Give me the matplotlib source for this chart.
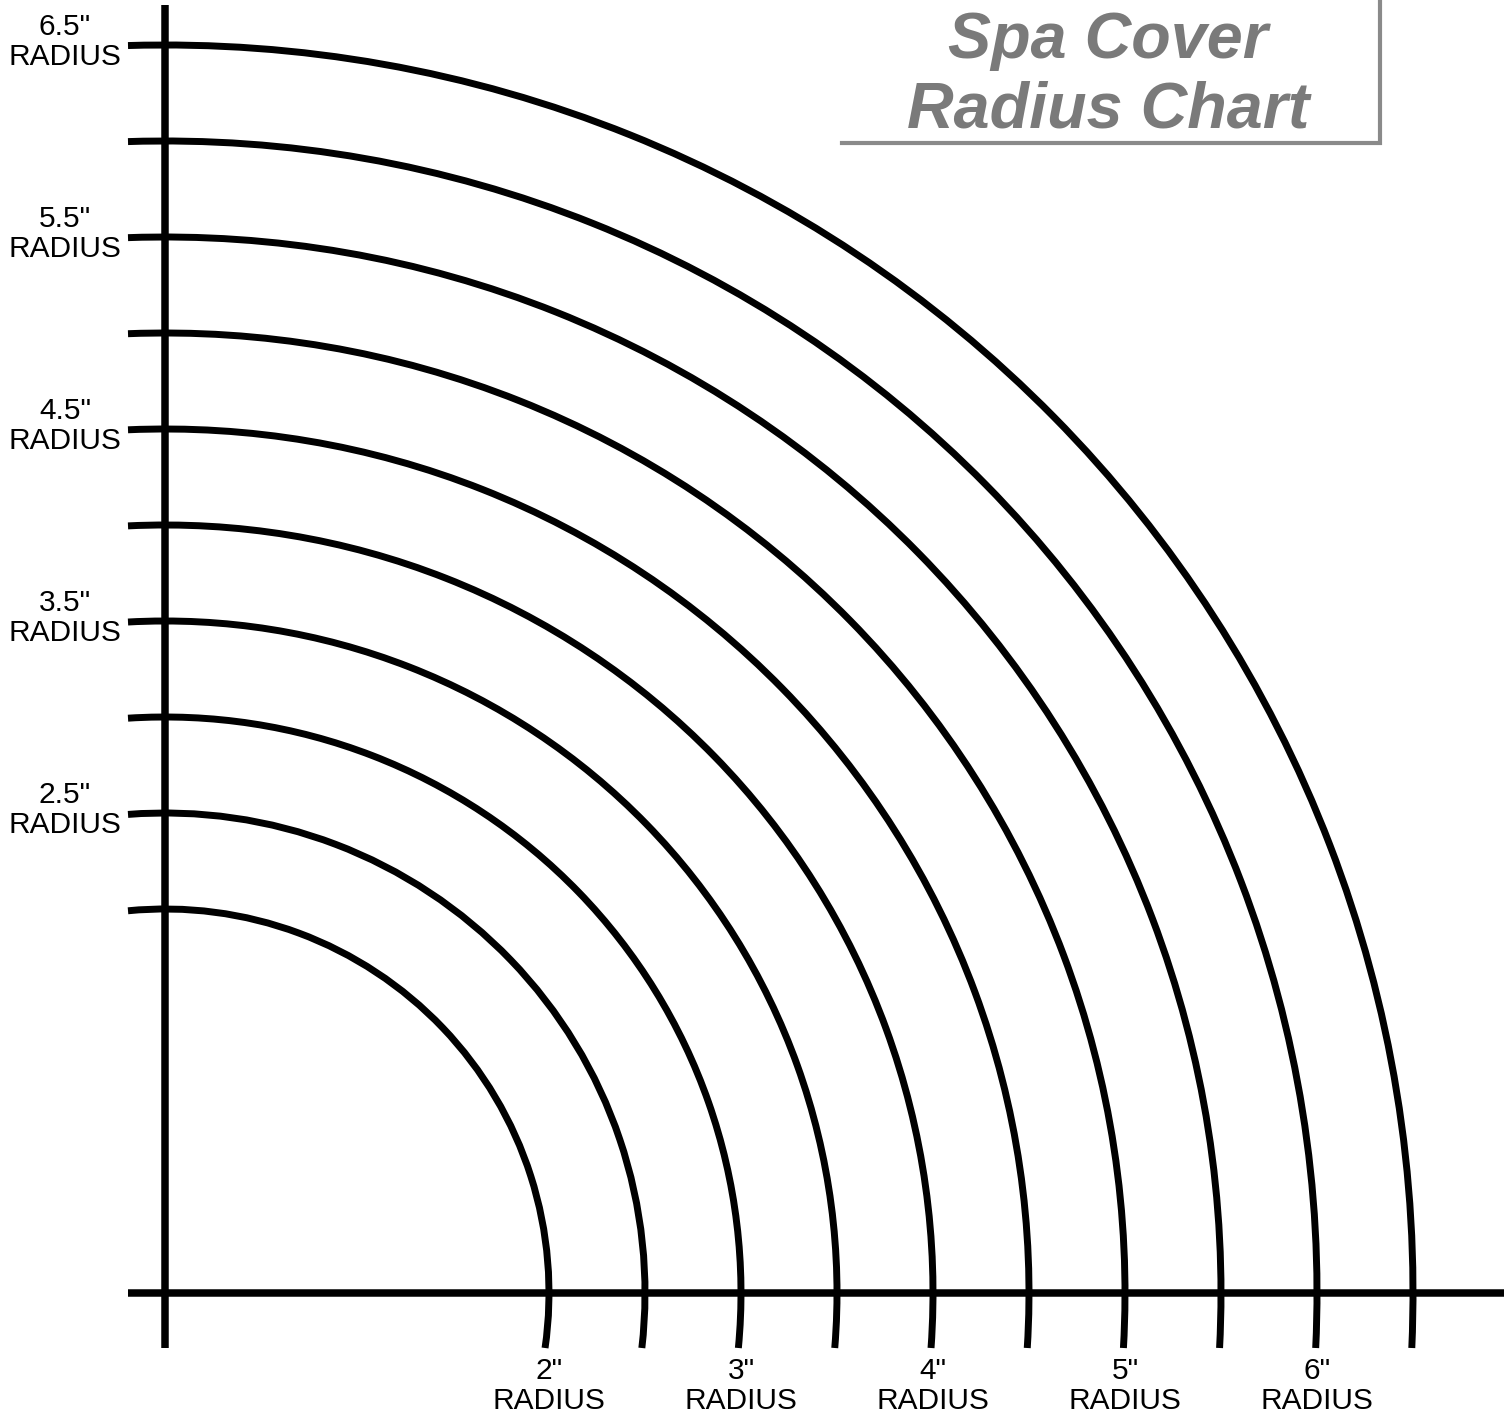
import numpy as np
import matplotlib
matplotlib.use('Agg')
import matplotlib.pyplot as plt
from matplotlib.patches import Arc

plt.rcParams['font.family'] = ['Liberation Sans', 'DejaVu Sans']

# arc radii in inches
radii = [2.0, 2.5, 3.0, 3.5, 4.0, 4.5, 5.0, 5.5, 6.0, 6.5]
# labelled radii on each axis
left_labels = [6.5, 5.5, 4.5, 3.5, 2.5]
bottom_labels = [2, 3, 4, 5, 6]
title_lines = ["Spa Cover", "Radius Chart"]

# pixel scale: 192 px per inch, origin at (165, 1293) of a 1504x1420 image
px = 192.0
x0, y0 = 165.0, 1293.0
W, H = 1504, 1420

fig = plt.figure(figsize=(W / 100, H / 100), dpi=100)
ax = fig.add_axes([0, 0, 1, 1])
ax.set_xlim(-x0 / px, (W - x0) / px)
ax.set_ylim(-(H - y0) / px, y0 / px)
ax.axis('off')

lw = 5.0
below = 55 / px   # arcs run past the x axis
left = 37 / px    # arcs run past the y axis

# axes lines
ax.plot([0, 0], [-below, (y0 - 5) / px], color='black', lw=lw + 0.4, solid_capstyle='butt')
ax.plot([-left, (W - x0) / px], [0, 0], color='black', lw=lw + 0.4, solid_capstyle='butt')

for r in radii:
    t1 = -np.degrees(np.arcsin(below / r))
    t2 = 90 + np.degrees(np.arcsin(left / r))
    ax.add_patch(Arc((0, 0), 2 * r, 2 * r, theta1=t1, theta2=t2,
                     color='black', lw=lw, capstyle='butt'))

for r in left_labels:
    ax.text(-100 / px, r + 3 / px, f'{r}"\nRADIUS', ha='center', va='center',
            fontsize=21.5, linespacing=1.12)

for r in bottom_labels:
    ax.text(r, -93 / px, f'{r}"\nRADIUS', ha='center', va='center',
            fontsize=21.5, linespacing=1.12)

# title block
ax.text((1108 - x0) / px, (y0 - 76) / px, "\n".join(title_lines),
        ha='center', va='center', fontsize=46.5, fontweight='bold',
        fontstyle='italic', color='#7a7a7a', linespacing=1.2)
ax.plot([(842 - x0) / px, (1380 - x0) / px, (1380 - x0) / px],
        [(y0 - 143) / px, (y0 - 143) / px, (y0 + 5) / px],
        color='#8a8a8a', lw=3, solid_joinstyle='miter')

fig.savefig('out.png', dpi=100)
